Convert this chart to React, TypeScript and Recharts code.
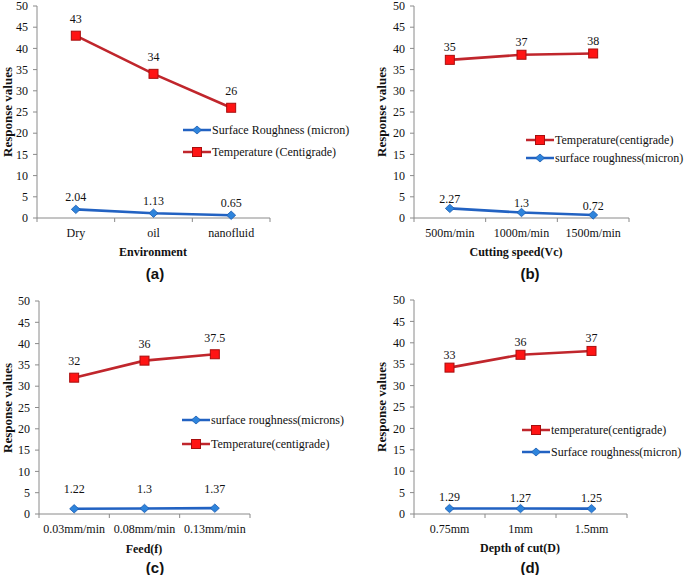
import React from 'react';
import { LineChart, Line, XAxis, YAxis, Legend, LabelList } from 'recharts';

// ---------- data ----------
const CAT_A = ['Dry', 'oil', 'nanofluid'];
const TEMP_A = [43, 34, 26];
const TEMP_A_LABELS = ['43', '34', '26'];
const SR_A = [2.04, 1.13, 0.65];
const SR_A_LABELS = ['2.04', '1.13', '0.65'];

const CAT_B = ['500m/min', '1000m/min', '1500m/min'];
const TEMP_B = [37.3, 38.5, 38.8];
const TEMP_B_LABELS = ['35', '37', '38'];
const SR_B = [2.27, 1.3, 0.72];
const SR_B_LABELS = ['2.27', '1.3', '0.72'];

const CAT_C = ['0.03mm/min', '0.08mm/min', '0.13mm/min'];
const TEMP_C = [32, 36, 37.5];
const TEMP_C_LABELS = ['32', '36', '37.5'];
const SR_C = [1.22, 1.3, 1.37];
const SR_C_LABELS = ['1.22', '1.3', '1.37'];

const CAT_D = ['0.75mm', '1mm', '1.5mm'];
const TEMP_D = [34.2, 37.2, 38.1];
const TEMP_D_LABELS = ['33', '36', '37'];
const SR_D = [1.29, 1.27, 1.25];
const SR_D_LABELS = ['1.29', '1.27', '1.25'];

const Y_TICKS = [0, 5, 10, 15, 20, 25, 30, 35, 40, 45, 50];
const X_TICKS = [0, 0.5, 1, 1.5, 2, 2.5, 3];

// ---------- styles ----------
const SERIF = '"Liberation Serif", "Times New Roman", serif';
const SANS = '"Liberation Sans", Arial, sans-serif';
const TEMP_LINE = '#C0262C';
const TEMP_FILL = '#FF1414';
const TEMP_EDGE = '#A80E0E';
const SR_LINE = '#2262C2';
const SR_FILL = '#2E84DC';
const SR_EDGE = '#1A5AB0';
const AXIS = '#8A8A8A';

type PanelCfg = {
  id: string;
  left: number; top: number; width: number; height: number;
  margin: { top: number; right: number; bottom: number; left: number };
  categories: string[];
  temp: number[]; tempLabels: string[];
  sr: number[]; srLabels: string[];
  tempName: string; srName: string;
  order: ('temp' | 'sr')[];
  tempOffset: number; srOffset: number;
  xTitle: string; xTitleY: number; xTitleX: number;
  letter: string; letterX: number; letterY: number;
  yTitleX: number;
  legendLeft: number; legendTop: number; legendGap: number;
};

const PANELS: PanelCfg[] = [
  {
    id: 'a', left: 0, top: 0, width: 340, height: 285,
    margin: { top: 6, right: 70, bottom: 37, left: 7 },
    categories: CAT_A, temp: TEMP_A, tempLabels: TEMP_A_LABELS, sr: SR_A, srLabels: SR_A_LABELS,
    tempName: 'Temperature (Centigrade)', srName: 'Surface Roughness (micron)',
    order: ['sr', 'temp'], tempOffset: -17, srOffset: -12,
    xTitle: 'Environment', xTitleX: 153, xTitleY: 252,
    letter: '(a)', letterX: 155, letterY: 273,
    yTitleX: 8,
    legendLeft: 183, legendTop: 121, legendGap: 22,
  },
  {
    id: 'b', left: 340, top: 0, width: 345, height: 285,
    margin: { top: 6, right: 56, bottom: 37, left: 44 },
    categories: CAT_B, temp: TEMP_B, tempLabels: TEMP_B_LABELS, sr: SR_B, srLabels: SR_B_LABELS,
    tempName: 'Temperature(centigrade)', srName: 'surface roughness(micron)',
    order: ['temp', 'sr'], tempOffset: -12.5, srOffset: -9,
    xTitle: 'Cutting speed(Vc)', xTitleX: 176, xTitleY: 252,
    letter: '(b)', letterX: 190, letterY: 273,
    yTitleX: 42,
    legendLeft: 186, legendTop: 131, legendGap: 17,
  },
  {
    id: 'c', left: 0, top: 285, width: 340, height: 290,
    margin: { top: 16, right: 90, bottom: 31, left: 9 },
    categories: CAT_C, temp: TEMP_C, tempLabels: TEMP_C_LABELS, sr: SR_C, srLabels: SR_C_LABELS,
    tempName: 'Temperature(centigrade)', srName: 'surface roughness(microns)',
    order: ['sr', 'temp'], tempOffset: -16.5, srOffset: -19.5,
    xTitle: 'Feed(f)', xTitleX: 144, xTitleY: 264,
    letter: '(c)', letterX: 155, letterY: 282,
    yTitleX: 8,
    legendLeft: 182, legendTop: 126, legendGap: 24,
  },
  {
    id: 'd', left: 340, top: 285, width: 345, height: 290,
    margin: { top: 15, right: 58, bottom: 31, left: 44 },
    categories: CAT_D, temp: TEMP_D, tempLabels: TEMP_D_LABELS, sr: SR_D, srLabels: SR_D_LABELS,
    tempName: 'temperature(centigrade)', srName: 'Surface roughness(micron)',
    order: ['temp', 'sr'], tempOffset: -12.5, srOffset: -11,
    xTitle: 'Depth of cut(D)', xTitleX: 180, xTitleY: 263,
    letter: '(d)', letterX: 190, letterY: 282,
    yTitleX: 42,
    legendLeft: 182, legendTop: 136, legendGap: 22,
  },
];

const SquareDot = (p: any) => {
  if (p.cx == null || p.cy == null) return <g />;
  return <rect x={p.cx - 4.5} y={p.cy - 4.5} width={9} height={9} fill={TEMP_FILL} stroke={TEMP_EDGE} strokeWidth={1} />;
};
const DiamondDot = (p: any) => {
  if (p.cx == null || p.cy == null) return <g />;
  const { cx, cy } = p;
  return <polygon points={`${cx},${cy - 4.2} ${cx + 4.5},${cy} ${cx},${cy + 4.2} ${cx - 4.5},${cy}`} fill={SR_FILL} stroke={SR_EDGE} strokeWidth={0.8} />;
};

const makeLabel = (offset: number) => (props: any) => {
  const x = props.x ?? props.viewBox?.x;
  const y = props.y ?? props.viewBox?.y;
  if (x == null || y == null) return null;
  return (
    <text x={x} y={y + offset} textAnchor="middle" dominantBaseline="central" fontFamily={SERIF} fontSize={12} fill="#111">
      {props.value}
    </text>
  );
};

const makeXTick = (categories: string[]) => (props: any) => {
  const { x, y, payload } = props;
  const v = payload.value;
  if (Number.isInteger(v)) {
    return <line x1={x} x2={x} y1={y} y2={y + 4} stroke={AXIS} strokeWidth={1} />;
  }
  const idx = Math.floor(v);
  return (
    <text x={x} y={y + 15} textAnchor="middle" dominantBaseline="central" fontFamily={SERIF} fontSize={12} fill="#111">
      {categories[idx]}
    </text>
  );
};

const LegendIcon = ({ kind }: { kind: 'temp' | 'sr' }) => (
  <svg width={28} height={12} style={{ display: 'block', flex: 'none' }}>
    <line x1={0} x2={28} y1={6} y2={6} stroke={kind === 'temp' ? TEMP_LINE : SR_LINE} strokeWidth={2.5} />
    {kind === 'temp' ? (
      <rect x={9.5} y={1.5} width={9} height={9} fill={TEMP_FILL} stroke={TEMP_EDGE} strokeWidth={1} />
    ) : (
      <polygon points="14,2 18.5,6 14,10 9.5,6" fill={SR_FILL} stroke={SR_EDGE} strokeWidth={0.8} />
    )}
  </svg>
);

const makeLegend = (cfg: PanelCfg) => (props: any) => {
  const payload = [...(props.payload || [])].sort(
    (a: any, b: any) => cfg.order.indexOf(a.dataKey) - cfg.order.indexOf(b.dataKey)
  );
  return (
    <div style={{ display: 'flex', flexDirection: 'column', gap: cfg.legendGap - 18 }}>
      {payload.map((e: any) => {
        const kind = e.dataKey === 'temp' ? 'temp' : 'sr';
        return (
          <div key={e.dataKey} style={{ display: 'flex', alignItems: 'center', height: 18, whiteSpace: 'nowrap' }}>
            <LegendIcon kind={kind} />
            <span style={{ fontFamily: SERIF, fontSize: 12, color: '#111', marginLeft: 1 }}>{e.value}</span>
          </div>
        );
      })}
    </div>
  );
};

const PanelChart = ({ cfg }: { cfg: PanelCfg }) => {
  const data = cfg.categories.map((c, i) => ({
    x: i + 0.5,
    cat: c,
    temp: cfg.temp[i],
    tempLabel: cfg.tempLabels[i],
    sr: cfg.sr[i],
    srLabel: cfg.srLabels[i],
  }));
  const plotTop = cfg.margin.top;
  const plotBottom = cfg.height - cfg.margin.bottom - 30;
  const yMid = (plotTop + plotBottom) / 2;
  return (
    <div style={{ position: 'absolute', left: cfg.left, top: cfg.top, width: cfg.width, height: cfg.height }}>
      <LineChart width={cfg.width} height={cfg.height} data={data} margin={cfg.margin} style={{ overflow: 'visible' }}>
        <XAxis
          type="number"
          dataKey="x"
          domain={[0, 3]}
          ticks={X_TICKS}
          interval={0}
          height={30}
          tickLine={false}
          tickSize={0}
          tickMargin={0}
          tick={makeXTick(cfg.categories)}
          axisLine={{ stroke: AXIS, strokeWidth: 1 }}
        />
        <YAxis
          domain={[0, 50]}
          ticks={Y_TICKS}
          interval={0}
          width={30}
          tickSize={4}
          tickMargin={5}
          tickLine={{ stroke: AXIS }}
          axisLine={{ stroke: AXIS, strokeWidth: 1 }}
          tick={{ fontFamily: SERIF, fontSize: 12, fill: '#111' }}
        />
        {cfg.order.map((k) =>
          k === 'temp' ? (
            <Line
              key="temp"
              dataKey="temp"
              name={cfg.tempName}
              stroke={TEMP_LINE}
              strokeWidth={2.6}
              dot={SquareDot}
              activeDot={false}
              isAnimationActive={false}
            >
              <LabelList dataKey="tempLabel" content={makeLabel(cfg.tempOffset)} />
            </Line>
          ) : (
            <Line
              key="sr"
              dataKey="sr"
              name={cfg.srName}
              stroke={SR_LINE}
              strokeWidth={2.6}
              dot={DiamondDot}
              activeDot={false}
              isAnimationActive={false}
            >
              <LabelList dataKey="srLabel" content={makeLabel(cfg.srOffset)} />
            </Line>
          )
        )}
        <Legend
          layout="horizontal"
          align="center"
          verticalAlign="middle"
          itemSorter={null as any}
          content={makeLegend(cfg)}
          wrapperStyle={{ left: cfg.legendLeft, top: cfg.legendTop, width: 'auto' }}
        />
      </LineChart>
      <div
        style={{
          position: 'absolute', left: cfg.yTitleX, top: yMid, transform: 'translate(-50%, -50%) rotate(-90deg)',
          fontFamily: SERIF, fontSize: 13, fontWeight: 'bold', whiteSpace: 'nowrap', color: '#111',
        }}
      >
        Response values
      </div>
      <div
        style={{
          position: 'absolute', left: cfg.xTitleX, top: cfg.xTitleY, transform: 'translate(-50%, -50%)',
          fontFamily: SERIF, fontSize: 12, fontWeight: 'bold', whiteSpace: 'nowrap', color: '#111',
        }}
      >
        {cfg.xTitle}
      </div>
      <div
        style={{
          position: 'absolute', left: cfg.letterX, top: cfg.letterY, transform: 'translate(-50%, -50%)',
          fontFamily: SANS, fontSize: 15, fontWeight: 'bold', whiteSpace: 'nowrap', color: '#111',
        }}
      >
        {cfg.letter}
      </div>
    </div>
  );
};

export default function App() {
  return (
    <div style={{ position: 'absolute', left: 0, top: 0, width: 685, height: 575, background: '#fff', overflow: 'hidden' }}>
      {PANELS.map((p) => (
        <PanelChart key={p.id} cfg={p} />
      ))}
    </div>
  );
}
